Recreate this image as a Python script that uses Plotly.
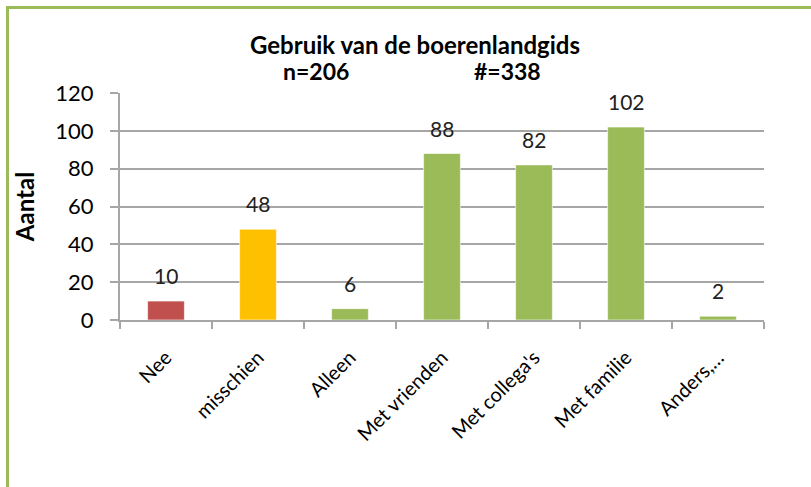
import plotly.graph_objects as go

categories = ["Nee", "misschien", "Alleen", "Met vrienden", "Met collega's", "Met familie", "Anders,…"]
values = [10, 48, 6, 88, 82, 102, 2]
bar_colors = ["#C0504D", "#FFC000", "#9BBB59", "#9BBB59", "#9BBB59", "#9BBB59", "#9BBB59"]
y_ticks = [0, 20, 40, 60, 80, 100, 120]

FONT = "Lato"
W, H = 811, 487
L, R, T, B = 120, 47, 93, 167
pw, ph = W - L - R, H - T - B

def px_x(x):
    return (x - L) / pw

def px_y(y):
    return (H - B - y) / ph

fig = go.Figure()
fig.add_trace(go.Bar(
    x=categories, y=values,
    marker=dict(color=bar_colors, line=dict(color="rgba(255,255,255,0.6)", width=1)),
    width=0.4,
    showlegend=False,
))

for c, v in zip(categories, values):
    fig.add_annotation(x=c, y=v, text=str(v), showarrow=False, yanchor="bottom",
                       yshift=11, font=dict(family=FONT, size=21, color="#222"))

fig.add_annotation(xref="paper", yref="paper", x=px_x(415), y=px_y(44), text="<b>Gebruik van de boerenlandgids</b>",
                   showarrow=False, xanchor="center", yanchor="middle", font=dict(family=FONT, size=24, color="#000"))
fig.add_annotation(xref="paper", yref="paper", x=px_x(316), y=px_y(71), text="<b>n=206</b>",
                   showarrow=False, xanchor="center", yanchor="middle", font=dict(family=FONT, size=23, color="#000"))
fig.add_annotation(xref="paper", yref="paper", x=px_x(507), y=px_y(71), text="<b>#=338</b>",
                   showarrow=False, xanchor="center", yanchor="middle", font=dict(family=FONT, size=23, color="#000"))

fig.add_shape(type="rect", xref="paper", yref="paper",
              x0=px_x(7.5), y0=px_y(500), x1=px_x(830), y1=px_y(7.5),
              line=dict(color="#9BBB59", width=3), layer="below")

fig.update_layout(
    width=W, height=H,
    margin=dict(l=L, r=R, t=T, b=B),
    paper_bgcolor="white", plot_bgcolor="white",
    bargap=0.6,
    xaxis=dict(
        tickangle=-45, tickfont=dict(family=FONT, size=20, color="#000"),
        showline=True, linecolor="#A6A6A6", linewidth=2,
        ticks="outside", tickson="boundaries", ticklen=7, tickcolor="#A6A6A6", tickwidth=2,
        ticklabelstandoff=16, showgrid=False,
    ),
    yaxis=dict(
        range=[0, 120], tickvals=y_ticks,
        tickfont=dict(family=FONT, size=22, color="#000"),
        showline=True, linecolor="#A6A6A6", linewidth=2,
        ticks="outside", ticklen=8, tickcolor="#A6A6A6", tickwidth=2,
        ticklabelstandoff=12,
        showgrid=True, gridcolor="#A6A6A6", gridwidth=2, zeroline=False,
        title=dict(text="<b>Aantal</b>", font=dict(family=FONT, size=24, color="#000"), standoff=14),
    ),
)

fig.write_html("out.html", config={"displayModeBar": False},
               post_script="document.body.style.margin='0';")
